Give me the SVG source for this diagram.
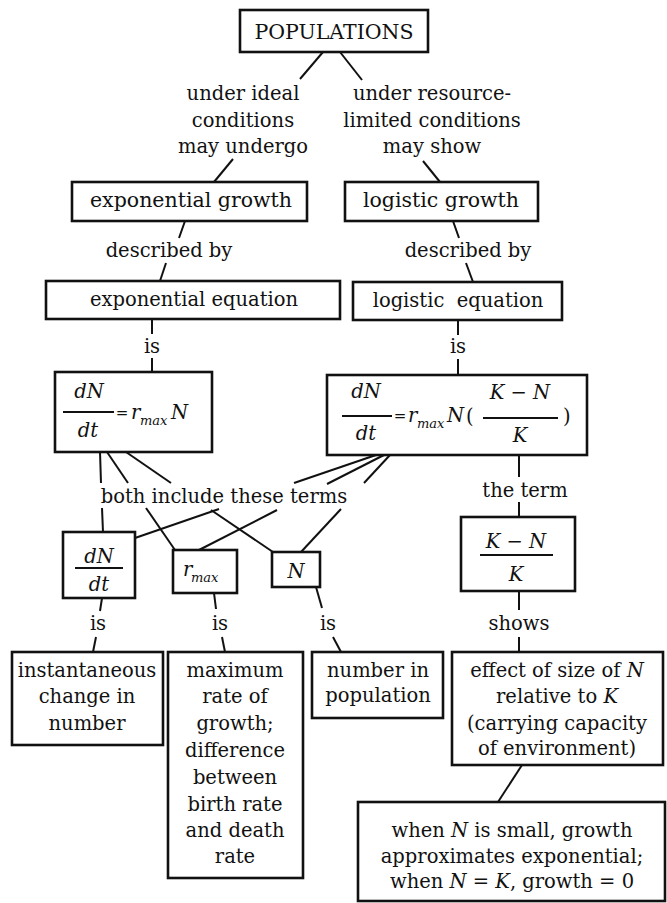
<svg xmlns="http://www.w3.org/2000/svg" width="667" height="903" viewBox="0 0 667 903">
<style>
text{font-family:"DejaVu Serif","Liberation Serif",serif;font-size:19.5px;fill:#111;text-anchor:middle}
.box{fill:#fff;stroke:#111;stroke-width:2.6}
.ln{stroke:#111;stroke-width:2;fill:none;stroke-linecap:butt}
.bar{stroke:#111;stroke-width:2}
.it{font-style:italic}
.st{text-anchor:start}
.eq{font-size:15px}
.sub{font-style:italic;font-size:13px;text-anchor:start}
</style>
<rect width="667" height="903" fill="#fff"/>
<g id="connectors">
<line class="ln" x1="323" y1="52" x2="300" y2="79"/>
<line class="ln" x1="340" y1="52" x2="362" y2="80"/>
<line class="ln" x1="233" y1="159" x2="214" y2="182"/>
<line class="ln" x1="423" y1="161" x2="440" y2="182"/>
<line class="ln" x1="185" y1="221" x2="179" y2="238"/>
<line class="ln" x1="166" y1="263" x2="160" y2="281"/>
<line class="ln" x1="453" y1="221" x2="459" y2="238"/>
<line class="ln" x1="466" y1="263" x2="473" y2="282"/>
<line class="ln" x1="152" y1="319" x2="152" y2="334"/>
<line class="ln" x1="152" y1="358" x2="152" y2="372"/>
<line class="ln" x1="458" y1="320" x2="458" y2="335"/>
<line class="ln" x1="458" y1="359" x2="458" y2="375"/>
<line class="ln" x1="100" y1="452" x2="101" y2="483"/>
<line class="ln" x1="102" y1="508" x2="103" y2="532"/>
<line class="ln" x1="107" y1="452" x2="128" y2="483"/>
<line class="ln" x1="146" y1="508" x2="175" y2="550"/>
<line class="ln" x1="126" y1="452" x2="171" y2="483"/>
<line class="ln" x1="211" y1="510" x2="273" y2="552"/>
<line class="ln" x1="376" y1="455" x2="294" y2="483"/>
<line class="ln" x1="219" y1="509" x2="135" y2="538"/>
<line class="ln" x1="384" y1="455" x2="327" y2="484"/>
<line class="ln" x1="277" y1="510" x2="199" y2="550"/>
<line class="ln" x1="390" y1="455" x2="364" y2="483"/>
<line class="ln" x1="341" y1="509" x2="301" y2="552"/>
<line class="ln" x1="519" y1="455" x2="519" y2="477"/>
<line class="ln" x1="519" y1="502" x2="519" y2="517"/>
<line class="ln" x1="102" y1="598" x2="100" y2="611"/>
<line class="ln" x1="96" y1="637" x2="93" y2="652"/>
<line class="ln" x1="214" y1="593" x2="216" y2="609"/>
<line class="ln" x1="222" y1="637" x2="225" y2="652"/>
<line class="ln" x1="316" y1="587" x2="322" y2="608"/>
<line class="ln" x1="333" y1="637" x2="341" y2="652"/>
<line class="ln" x1="519" y1="591" x2="519" y2="610"/>
<line class="ln" x1="519" y1="637" x2="519" y2="652"/>
<line class="ln" x1="522" y1="765" x2="498" y2="802"/>
<text x="243" y="100">under ideal</text>
<text x="243" y="127">conditions</text>
<text x="243" y="153">may undergo</text>
<text x="432" y="100">under resource-</text>
<text x="432" y="127">limited conditions</text>
<text x="432" y="153">may show</text>
<text x="169" y="257">described by</text>
<text x="468" y="257">described by</text>
<text x="152" y="353">is</text>
<text x="458" y="353">is</text>
<text x="224" y="503">both include these terms</text>
<text x="525" y="497">the term</text>
<text x="98" y="630">is</text>
<text x="220" y="630">is</text>
<text x="328" y="630">is</text>
<text x="519" y="630">shows</text>
</g>
<g id="populations">
<rect class="box" x="240" y="10" width="188" height="42"/>
<text x="334" y="39" style="font-size:20.5px">POPULATIONS</text>
</g>
<g id="exponential-growth">
<rect class="box" x="72" y="182" width="235" height="39"/>
<text x="191" y="207" style="font-size:20.5px">exponential growth</text>
</g>
<g id="logistic-growth">
<rect class="box" x="345" y="182" width="193" height="39"/>
<text x="441" y="207" style="font-size:20.5px">logistic growth</text>
</g>
<g id="exponential-equation">
<rect class="box" x="46" y="281" width="294" height="38"/>
<text x="194" y="306">exponential equation</text>
</g>
<g id="logistic-equation">
<rect class="box" x="353" y="282" width="209" height="38"/>
<text x="458" y="307" xml:space="preserve">logistic  equation</text>
</g>
<g id="exponential-formula">
<rect class="box" x="55" y="372" width="157" height="80"/>
<text class="it" x="89" y="398">dN</text>
<line class="bar" x1="63" y1="412" x2="114" y2="412"/>
<text class="it" x="88" y="437">dt</text>
<text class="eq" x="122" y="418">=</text>
<text class="it st" x="131" y="419">r</text>
<text class="sub" x="140" y="425">max</text>
<text class="it st" x="171" y="419">N</text>
</g>
<g id="logistic-formula">
<rect class="box" x="327" y="375" width="260" height="80"/>
<text class="it" x="366" y="398">dN</text>
<line class="bar" x1="342" y1="416" x2="392" y2="416"/>
<text class="it" x="366" y="440">dt</text>
<text class="eq" x="400" y="421">=</text>
<text class="it st" x="408" y="422">r</text>
<text class="sub" x="417" y="428">max</text>
<text class="it st" x="447" y="422">N</text>
<text class="st" x="466" y="423">(</text>
<text class="it" x="520" y="399">K − N</text>
<line class="bar" x1="483" y1="418" x2="558" y2="418"/>
<text class="it" x="520" y="442">K</text>
<text class="st" x="563" y="423">)</text>
</g>
<g id="term-dNdt">
<rect class="box" x="63" y="532" width="72" height="66"/>
<text class="it" x="99" y="563">dN</text>
<line class="bar" x1="75" y1="568" x2="123" y2="568"/>
<text class="it" x="99" y="591">dt</text>
</g>
<g id="term-rmax">
<rect class="box" x="173" y="550" width="64" height="43"/>
<text class="it st" x="183" y="576">r</text>
<text class="sub" x="191" y="582">max</text>
</g>
<g id="term-N">
<rect class="box" x="272" y="552" width="48" height="35"/>
<text class="it" x="296" y="578">N</text>
</g>
<g id="term-KNK">
<rect class="box" x="461" y="517" width="114" height="74"/>
<text class="it" x="516" y="548">K − N</text>
<line class="bar" x1="480" y1="555" x2="553" y2="555"/>
<text class="it" x="516" y="581">K</text>
</g>
<g id="instantaneous">
<rect class="box" x="12" y="652" width="151" height="93"/>
<text x="87" y="677">instantaneous</text>
<text x="87" y="703">change in</text>
<text x="87" y="730">number</text>
</g>
<g id="maximum-rate">
<rect class="box" x="168" y="652" width="135" height="226"/>
<text x="235" y="677">maximum</text>
<text x="235" y="703">rate of</text>
<text x="235" y="730">growth;</text>
<text x="235" y="757">difference</text>
<text x="235" y="784">between</text>
<text x="235" y="811">birth rate</text>
<text x="235" y="837">and death</text>
<text x="235" y="863">rate</text>
</g>
<g id="number-in-population">
<rect class="box" x="312" y="652" width="131" height="66"/>
<text x="378" y="677">number in</text>
<text x="378" y="702">population</text>
</g>
<g id="effect">
<rect class="box" x="452" y="652" width="211" height="113"/>
<text x="557" y="677">effect of size of <tspan class="it">N</tspan></text>
<text x="557" y="703">relative to <tspan class="it">K</tspan></text>
<text x="557" y="730">(carrying capacity</text>
<text x="557" y="755">of environment)</text>
</g>
<g id="when">
<rect class="box" x="358" y="802" width="307" height="99"/>
<text x="512" y="837">when <tspan class="it">N</tspan> is small, growth</text>
<text x="512" y="863">approximates exponential;</text>
<text x="512" y="888">when <tspan class="it">N</tspan> = <tspan class="it">K</tspan>, growth = 0</text>
</g>
</svg>
